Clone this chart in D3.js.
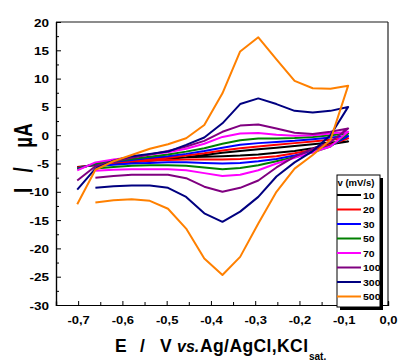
<!DOCTYPE html>
<html><head><meta charset="utf-8">
<script src="https://cdn.jsdelivr.net/npm/d3@7"></script>
<style>
body{margin:0;background:#fff}
text{font-family:"Liberation Sans",Arial,sans-serif;font-weight:bold;fill:#000}
</style>
</head><body>
<svg id="chart" width="398" height="361"></svg>
<script>
// Potential grid (V vs Ag/AgCl) used by every sweep
const potential = [-0.702,-0.661,-0.620,-0.579,-0.538,-0.497,-0.456,-0.415,-0.374,-0.334,-0.293,-0.252,-0.211,-0.170,-0.130,-0.090];
// scan rates and colours
const scanRates = ["10","20","30","50","70","100","300","500"];
const colors = ["#000000","#ff0000","#0000ff","#008000","#ff00ff","#800080","#000080","#ff8000"];
// forward sweep (currents at potential[0..15]), µA
const fwd10  = [-5.6,-5.3,-5.0,-4.8,-4.5,-4.2,-3.9,-3.5,-3.1,-2.8,-2.5,-2.2,-1.9,-1.6,-1.3,-1.1];
const fwd20  = [-5.7,-5.2,-4.9,-4.6,-4.3,-4.0,-3.6,-3.2,-2.7,-2.3,-2.0,-1.7,-1.4,-1.1,-0.8,-0.55];
const fwd30  = [-5.9,-5.1,-4.7,-4.4,-4.0,-3.7,-3.3,-2.8,-2.2,-1.7,-1.4,-1.2,-1.0,-0.7,-0.4,-0.15];
const fwd50  = [-6.0,-5.0,-4.6,-4.2,-3.8,-3.4,-2.9,-2.3,-1.5,-0.9,-0.6,-0.6,-0.5,-0.3,0.0,0.3];
const fwd70  = [-6.2,-4.8,-4.3,-3.9,-3.4,-3.0,-2.4,-1.5,-0.3,0.3,0.4,0.1,-0.1,0.0,0.3,0.6];
const fwd100 = [-8.0,-5.5,-4.6,-4.0,-3.4,-2.8,-2.0,-1.0,0.6,1.7,1.9,1.2,0.45,0.2,0.6,1.2];
const fwd300 = [-9.6,-5.9,-4.5,-3.7,-3.3,-2.9,-1.7,-0.4,2.1,5.5,6.5,5.5,4.3,4.0,4.3,5.0];
const fwd500 = [-12.2,-6.1,-4.6,-3.5,-2.4,-1.6,-0.55,1.8,7.4,14.8,17.3,13.4,9.6,8.3,8.2,8.75];
// reverse sweep (currents at potential[14] down to potential[1]), µA
const rev10  = [-1.6,-2.3,-2.8,-3.1,-3.4,-3.6,-3.7,-3.8,-3.9,-4.0,-4.1,-4.3,-4.6,-5.0];
const rev20  = [-1.7,-2.6,-3.2,-3.7,-4.0,-4.2,-4.3,-4.3,-4.3,-4.4,-4.5,-4.7,-4.9,-5.3];
const rev30  = [-1.9,-2.9,-3.6,-4.2,-4.6,-4.9,-5.0,-4.9,-4.8,-4.8,-4.9,-5.0,-5.2,-5.5];
const rev50  = [-2.0,-3.0,-3.9,-4.6,-5.3,-5.8,-6.0,-5.7,-5.4,-5.3,-5.3,-5.4,-5.6,-5.9];
const rev70  = [-2.0,-3.0,-4.0,-5.0,-6.2,-7.0,-7.2,-6.7,-6.2,-6.0,-6.0,-6.0,-6.1,-6.3];
const rev100 = [-1.2,-2.4,-3.8,-5.7,-8.0,-9.3,-10.0,-9.1,-7.6,-7.0,-7.0,-7.0,-7.2,-7.5];
const rev300 = [0.0,-2.8,-4.8,-7.3,-10.9,-13.5,-15.3,-13.8,-10.9,-9.3,-8.9,-8.9,-9.0,-9.3];
const rev500 = [-0.85,-3.5,-5.9,-10.0,-15.6,-21.5,-24.7,-21.8,-16.5,-13.0,-11.6,-11.3,-11.5,-11.9];
// tick values / labels
const xMajor = [-0.7,-0.6,-0.5,-0.4,-0.3,-0.2,-0.1,0.0];
const xLabels = ["-0,7","-0,6","-0,5","-0,4","-0,3","-0,2","-0,1","0,0"];
const xMinor = [-0.75,-0.65,-0.55,-0.45,-0.35,-0.25,-0.15,-0.05];
const yMajor = [20,15,10,5,0,-5,-10,-15,-20,-25,-30];
const yMinor = [17.5,12.5,7.5,2.5,-2.5,-7.5,-12.5,-17.5,-22.5,-27.5];

const fwdAll = [fwd10,fwd20,fwd30,fwd50,fwd70,fwd100,fwd300,fwd500];
const revAll = [rev10,rev20,rev30,rev50,rev70,rev100,rev300,rev500];

const svg = d3.select("#chart");
const L=56,R=388,T=22,B=305;
const x = d3.scaleLinear().domain([-0.75,0]).range([L,R]);
const y = d3.scaleLinear().domain([-30,20]).range([B,T]);

// frame
svg.append("line").attr("x1",L).attr("x2",R).attr("y1",T).attr("y2",T).attr("stroke","#666").attr("stroke-width",1.6);
svg.append("line").attr("x1",R).attr("x2",R).attr("y1",T).attr("y2",B).attr("stroke","#222").attr("stroke-width",1.2);

// curves
const line = d3.line().x(d=>x(d[0])).y(d=>y(d[1]));
scanRates.forEach((r,k)=>{
  const pts = potential.map((v,i)=>[v,fwdAll[k][i]]);
  revAll[k].forEach((c,j)=>pts.push([potential[14-j],c]));
  svg.append("path").attr("d",line(pts)).attr("fill","none")
    .attr("stroke",colors[k]).attr("stroke-width",2).attr("stroke-linejoin","round");
});

// x axis
const gx = svg.append("g").attr("transform",`translate(0,${B})`);
gx.call(d3.axisBottom(x).tickValues(xMajor).tickSize(-4).tickFormat((d,i)=>xLabels[i]));
gx.append("g").call(d3.axisBottom(x).tickValues(xMinor).tickSize(-3).tickFormat(""));
gx.selectAll("path.domain").attr("stroke","#000").attr("stroke-width",1.2);
gx.selectAll("text").attr("y",0).attr("dy",null).attr("font-size",13)
  .attr("transform","translate(0,18.5) scale(1,0.82)").style("font-family","Liberation Sans, Arial, sans-serif").style("font-weight","bold");

// y axis
const gy = svg.append("g").attr("transform",`translate(${L},0)`);
gy.call(d3.axisLeft(y).tickValues(yMajor).tickSize(-5).tickPadding(7).tickFormat(d=>String(d)));
gy.append("g").call(d3.axisLeft(y).tickValues(yMinor).tickSize(-3).tickFormat(""));
gy.selectAll("path.domain").attr("stroke","#000").attr("stroke-width",1.2);
gy.selectAll("text").attr("dy",null).attr("font-size",13.5)
  .attr("transform","translate(0,4) scale(1,0.82)").style("font-family","Liberation Sans, Arial, sans-serif").style("font-weight","bold");
svg.selectAll(".tick line").attr("stroke","#000");

// y title
const yTitle = [["µA",135.5],["/",170],["I",190.5]];
yTitle.forEach(([t,cy])=>{
  svg.append("text").attr("transform",`translate(32,${cy}) scale(1,0.72) rotate(-90)`)
    .attr("text-anchor","middle").attr("font-size",26).text(t);
});

// x title
const xt = svg.append("text").attr("y",352).attr("font-size",17.5);
xt.append("tspan").attr("x",115).text("E");
xt.append("tspan").attr("x",140).text("/");
xt.append("tspan").attr("x",160).text("V");
xt.append("tspan").attr("x",177).attr("font-style","italic").attr("font-size",16).text("vs.");
xt.append("tspan").attr("x",200).attr("textLength",108).text("Ag/AgCl,KCl");
svg.append("text").attr("x",309).attr("y",360).attr("font-size",10).text("sat.");

// legend
const lg = svg.append("g");
lg.append("rect").attr("x",340).attr("y",178).attr("width",43).attr("height",132).attr("fill","#000");
lg.append("rect").attr("x",337).attr("y",175).attr("width",43).attr("height",132).attr("fill","#fff").attr("stroke","#000").attr("stroke-width",1);
lg.append("text").attr("x",337.5).attr("y",185.5).attr("font-size",9.5).text("v (mV/s)");
scanRates.forEach((r,k)=>{
  const cy = 195 + k*14.5;
  lg.append("line").attr("x1",337).attr("x2",361).attr("y1",cy).attr("y2",cy).attr("stroke",colors[k]).attr("stroke-width",2);
  lg.append("text").attr("transform",`translate(363,${cy+3.5}) scale(1,0.85)`).attr("font-size",10.5).text(r);
});
</script>
</body></html>
